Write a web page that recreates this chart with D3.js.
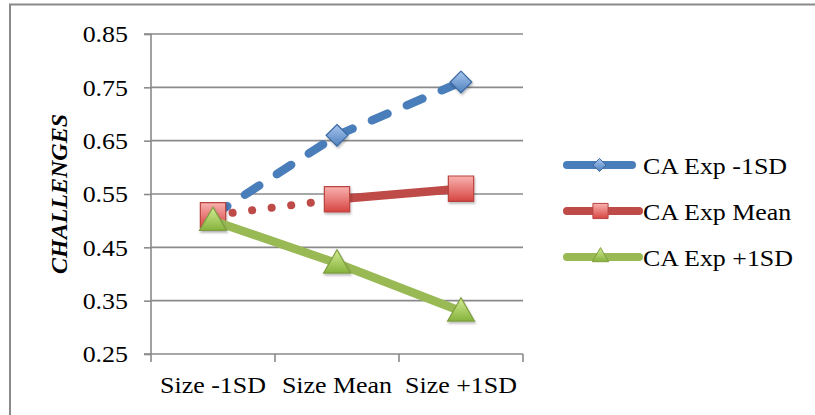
<!DOCTYPE html>
<html>
<head>
<meta charset="utf-8">
<script src="https://cdn.jsdelivr.net/npm/d3@7"></script>
<style>
  html, body { margin: 0; padding: 0; background: #fff; }
  svg { display: block; }
  text { font-family: "Liberation Serif", "Times New Roman", serif; fill: #000; }
</style>
</head>
<body>
<svg id="chart" width="815" height="415"></svg>
<script>
// Category labels along the x axis
const categories = ["Size -1SD", "Size Mean", "Size +1SD"];
// Series names
const seriesNames = ["CA Exp -1SD", "CA Exp Mean", "CA Exp +1SD"];
// Series values (CHALLENGES)
const expLow  = [0.51, 0.66, 0.76];
const expMean = [0.51, 0.54, 0.56];
const expHigh = [0.50, 0.42, 0.33];
// Y-axis tick values
const yTicks = [0.25, 0.35, 0.45, 0.55, 0.65, 0.75, 0.85];

const seriesValues = [expLow, expMean, expHigh];

// Per-series drawing style (line colour, marker, and stroke pattern for each segment)
const styles = [
  { color: "#4a7ebb", marker: "diamond", segments: ["dash", "dash"],
    grad: ["#a9c6ef", "#4f81bd"], edge: "#3a67a0" },
  { color: "#be4b48", marker: "square", segments: ["dot", "solid"],
    grad: ["#f9b2b0", "#d64541"], edge: "#b8433f" },
  { color: "#98b954", marker: "triangle", segments: ["solid", "solid"],
    grad: ["#d3ec95", "#86b23c"], edge: "#7f9e42" }
];

// Horizontal widening applied to the serif labels
const TEXT_STRETCH = 1.08;
function widen(sel) {
  sel.each(function () {
    const w = this.getComputedTextLength();
    d3.select(this).attr("textLength", w * TEXT_STRETCH).attr("lengthAdjust", "spacingAndGlyphs");
  });
}

const svg = d3.select("#chart");

// Outer chart frame (continues past the right and bottom edges)
svg.append("rect")
  .attr("x", 10).attr("y", 4.5)
  .attr("width", 830).attr("height", 430)
  .attr("fill", "none")
  .attr("stroke", "#8a8a8a")
  .attr("stroke-width", 2);

const plot = { left: 151, right: 523, top: 34, bottom: 354 };

const x = d3.scaleBand().domain(categories).range([plot.left, plot.right]);
const y = d3.scaleLinear().domain([0.25, 0.85]).range([plot.bottom, plot.top]);

// Marker gradients
const defs = svg.append("defs");
styles.forEach((s, i) => {
  const g = defs.append("linearGradient")
    .attr("id", "mk" + i).attr("x1", 0).attr("y1", 0).attr("x2", 0).attr("y2", 1);
  g.append("stop").attr("offset", "0%").attr("stop-color", s.grad[0]);
  g.append("stop").attr("offset", "100%").attr("stop-color", s.grad[1]);
});
const shadow = defs.append("filter").attr("id", "shadow")
  .attr("x", "-30%").attr("y", "-30%").attr("width", "160%").attr("height", "160%");
shadow.append("feDropShadow").attr("dx", 1).attr("dy", 2).attr("stdDeviation", 1.2)
  .attr("flood-color", "#000").attr("flood-opacity", 0.25);

// Horizontal gridlines
svg.append("g")
  .selectAll("line")
  .data(yTicks.filter(t => t > 0.25))
  .join("line")
  .attr("x1", plot.left).attr("x2", plot.right)
  .attr("y1", d => y(d)).attr("y2", d => y(d))
  .attr("stroke", "#8a8a8a").attr("stroke-width", 1.6);

// Y axis
const yAxis = svg.append("g")
  .attr("transform", `translate(${plot.left},0)`)
  .call(d3.axisLeft(y).tickValues(yTicks).tickFormat(d3.format(".2f"))
    .tickSize(7).tickPadding(16));
yAxis.select(".domain").attr("stroke", "#8a8a8a").attr("stroke-width", 1.6)
  .attr("d", `M-7,${plot.top}H0V${plot.bottom}H-7`);
yAxis.selectAll(".tick line").attr("stroke", "#8a8a8a").attr("stroke-width", 1.6);
yAxis.selectAll(".tick text").attr("font-size", 24)
  .attr("font-family", "Liberation Serif").attr("fill", "#000")
  .call(widen);

// X axis with ticks at category boundaries
const xAxisG = svg.append("g").attr("transform", `translate(0,${plot.bottom})`);
xAxisG.append("line")
  .attr("x1", plot.left).attr("x2", plot.right)
  .attr("stroke", "#8a8a8a").attr("stroke-width", 1.6);
const bounds = categories.map(c => x(c)).concat([x(categories[categories.length - 1]) + x.bandwidth()]);
xAxisG.selectAll("line.tk").data(bounds).join("line")
  .attr("class", "tk")
  .attr("x1", d => d).attr("x2", d => d)
  .attr("y1", 0).attr("y2", 8)
  .attr("stroke", "#8a8a8a").attr("stroke-width", 1.6);
xAxisG.selectAll("text").data(categories).join("text")
  .attr("x", d => x(d) + x.bandwidth() / 2)
  .attr("y", 39)
  .attr("text-anchor", "middle")
  .attr("font-size", 24)
  .text(d => d)
  .call(widen);

// Y axis title
svg.append("text")
  .attr("transform", `translate(67,${(plot.top + plot.bottom) / 2}) rotate(-90)`)
  .attr("text-anchor", "middle")
  .attr("font-size", 24)
  .attr("font-weight", "bold")
  .attr("font-style", "italic")
  .text("CHALLENGES");

// Stroke patterns
function applyPattern(sel, kind) {
  sel.attr("stroke-linecap", "round").attr("stroke-width", kind === "dot" ? 8 : 8.5);
  if (kind === "dash") sel.attr("stroke-dasharray", "17,21");
  else if (kind === "dot") sel.attr("stroke-dasharray", "0.1,19.6");
}

// Marker shapes
const symbolFor = {
  diamond: d3.symbol().type(d3.symbolDiamond2).size(300),
  square: d3.symbol().type(d3.symbolSquare).size(640),
  triangle: d3.symbol().type(d3.symbolTriangle2).size(520)
};
const legendSymbol = {
  diamond: d3.symbol().type(d3.symbolDiamond2).size(110),
  square: d3.symbol().type(d3.symbolSquare).size(230),
  triangle: d3.symbol().type(d3.symbolTriangle2).size(190)
};

// Series lines and markers
seriesValues.forEach((vals, si) => {
  const s = styles[si];
  const g = svg.append("g");
  const pts = vals.map((v, i) => [x(categories[i]) + x.bandwidth() / 2, y(v)]);
  for (let k = 0; k < pts.length - 1; k++) {
    const seg = g.append("line")
      .attr("x1", pts[k][0]).attr("y1", pts[k][1])
      .attr("x2", pts[k + 1][0]).attr("y2", pts[k + 1][1])
      .attr("stroke", s.color);
    applyPattern(seg, s.segments[k]);
  }
  g.selectAll("path.mk").data(pts).join("path")
    .attr("class", "mk")
    .attr("d", symbolFor[s.marker])
    .attr("transform", d => `translate(${d[0]},${d[1] + (s.marker === "triangle" ? 2 : 0)})`)
    .attr("fill", `url(#mk${si})`)
    .attr("stroke", s.edge)
    .attr("stroke-width", 1.2)
    .attr("filter", "url(#shadow)");
});

// Legend
const legendY = [165, 211, 257];
const legend = svg.append("g");
seriesNames.forEach((name, i) => {
  const s = styles[i];
  const row = legend.append("g").attr("transform", `translate(0,${legendY[i]})`);
  const x2 = i === 0 ? 632 : 639;
  row.append("line")
    .attr("x1", 567).attr("x2", x2)
    .attr("stroke", s.color).attr("stroke-width", 8).attr("stroke-linecap", "round");
  row.append("path")
    .attr("d", legendSymbol[s.marker])
    .attr("transform", `translate(${(567 + 632) / 2 + (i === 0 ? 0 : 1)},0)`)
    .attr("fill", `url(#mk${i})`)
    .attr("stroke", s.edge)
    .attr("stroke-width", 1);
  row.append("text")
    .attr("x", 643).attr("y", 8.5)
    .attr("font-size", 24)
    .text(name)
    .call(widen);
});
</script>
</body>
</html>
